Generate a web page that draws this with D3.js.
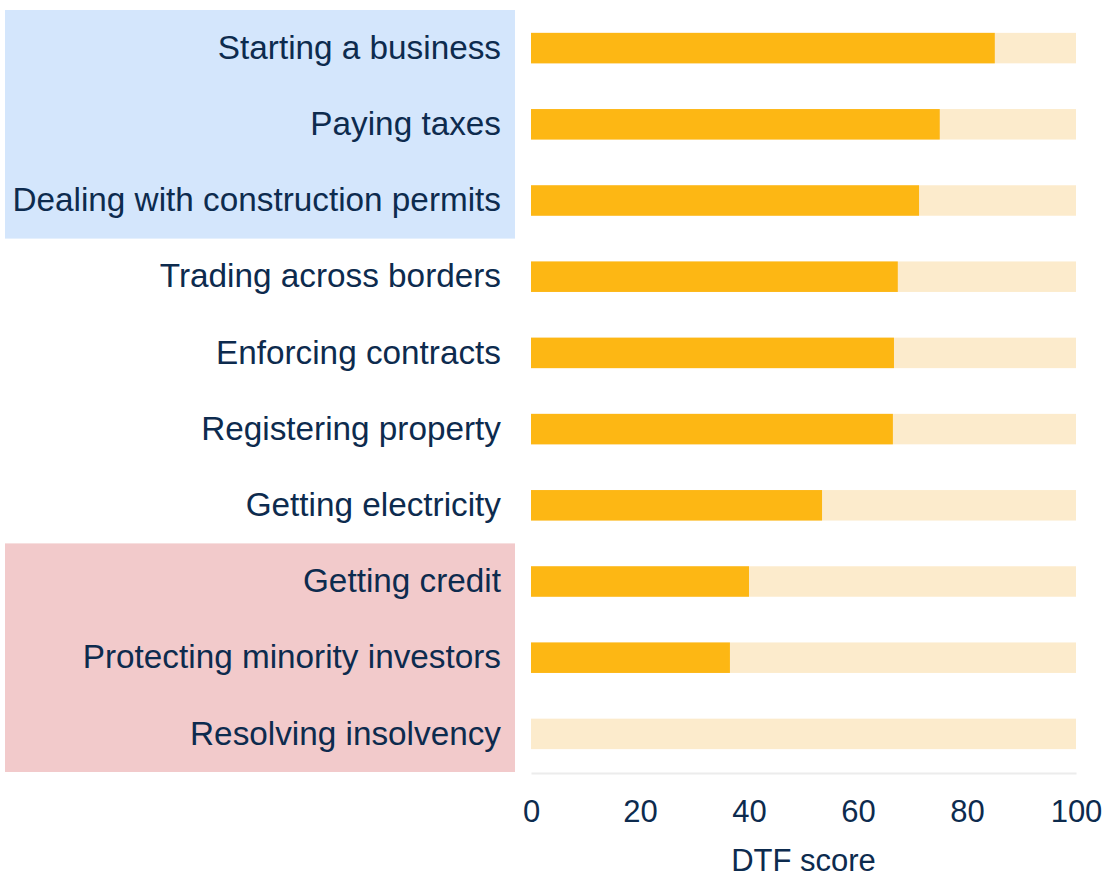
<!DOCTYPE html>
<html>
<head>
<meta charset="utf-8">
<script src="https://cdn.jsdelivr.net/npm/d3@7"></script>
<style>
  body { margin: 0; background: #fff; }
  text { font-family: "Liberation Sans", Arial, sans-serif; fill: #0d2b4e; }
</style>
</head>
<body>
<svg id="chart" width="1107" height="878"></svg>
<script>
const categories = [
  'Starting a business',
  'Paying taxes',
  'Dealing with construction permits',
  'Trading across borders',
  'Enforcing contracts',
  'Registering property',
  'Getting electricity',
  'Getting credit',
  'Protecting minority investors',
  'Resolving insolvency'
];
const scores = [85.1, 75.0, 71.2, 67.3, 66.6, 66.4, 53.4, 40.0, 36.5, 0];
const xTicks = [0, 20, 40, 60, 80, 100];
// groups highlighted behind the labels
const topGroup = ['Starting a business', 'Paying taxes', 'Dealing with construction permits'];
const bottomGroup = ['Getting credit', 'Protecting minority investors', 'Resolving insolvency'];

const svg = d3.select('#chart');

const x = d3.scaleLinear().domain([0, 100]).range([531, 1076]);
const y = d3.scaleBand()
  .domain(categories)
  .range([10, 772])
  .paddingInner(0.6)
  .paddingOuter(0.3);

const step = y.step();
const bw = y.bandwidth();

function groupBox(group, color) {
  const top = y(group[0]) + bw / 2 - step / 2;
  const bottom = y(group[group.length - 1]) + bw / 2 + step / 2;
  svg.append('rect')
    .attr('x', 5)
    .attr('y', top)
    .attr('width', 510)
    .attr('height', bottom - top)
    .attr('fill', color);
}
groupBox(topGroup, '#d4e6fc');
groupBox(bottomGroup, '#f2cacb');

// background track
svg.selectAll('.track')
  .data(categories)
  .enter()
  .append('rect')
  .attr('class', 'track')
  .attr('x', x(0))
  .attr('y', d => y(d))
  .attr('width', x(100) - x(0))
  .attr('height', bw)
  .attr('fill', '#fcebcc');

svg.selectAll('.bar')
  .data(scores)
  .enter()
  .append('rect')
  .attr('class', 'bar')
  .attr('x', x(0))
  .attr('y', (d, i) => y(categories[i]))
  .attr('width', d => x(d) - x(0))
  .attr('height', bw)
  .attr('fill', '#fdb714');

// category labels
svg.selectAll('.label')
  .data(categories)
  .enter()
  .append('text')
  .attr('class', 'label')
  .attr('x', 501)
  .attr('y', d => y(d) + bw / 2 - 1)
  .attr('dy', '0.35em')
  .attr('text-anchor', 'end')
  .style('font-size', '33.3px')
  .text(d => d);

// x axis
const xAxis = d3.axisBottom(x).tickValues(xTicks).tickSize(0).tickPadding(27);
const ax = svg.append('g')
  .attr('transform', 'translate(0,773)')
  .call(xAxis);
ax.select('.domain').attr('stroke', '#ececec').attr('stroke-width', 2);
ax.selectAll('text')
  .style('font-size', '31px')
  .style('font-family', '"Liberation Sans", Arial, sans-serif')
  .attr('fill', '#0d2b4e');

svg.append('text')
  .attr('x', x(50))
  .attr('y', 871)
  .attr('text-anchor', 'middle')
  .style('font-size', '31px')
  .text('DTF score');
</script>
</body>
</html>
